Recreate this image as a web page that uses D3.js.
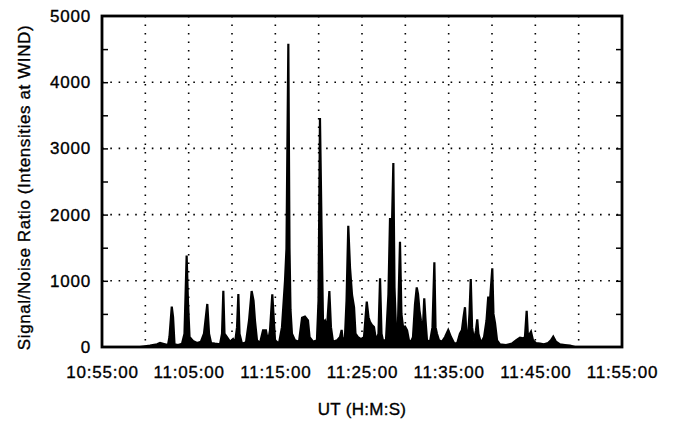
<!DOCTYPE html>
<html>
<head>
<meta charset="utf-8">
<script src="https://cdn.jsdelivr.net/npm/d3@7"></script>
<style>
  body { margin: 0; background: #fff; }
  text { font-family: "Liberation Sans", Arial, Helvetica, sans-serif; fill: #000; stroke: #000; stroke-width: 0.35px; }
</style>
</head>
<body>
<div id="chart"></div>
<script>
// seconds after 10:55:00 UT
var utSeconds = [263, 332, 381, 402, 429, 457, 467, 483, 492, 502, 526, 554, 571, 586, 595, 606, 630, 658, 685, 706,
  729, 741, 755, 782, 817, 831, 840, 848, 865, 886, 907, 921, 935, 944, 952, 969, 997, 1018, 1036, 1049,
  1059, 1073, 1094, 1115, 1135, 1149, 1163, 1179, 1187, 1198, 1225, 1246, 1267, 1277, 1290, 1298, 1305, 1315, 1336, 1364,
  1385, 1405, 1426, 1437, 1461, 1488, 1499, 1509, 1520, 1530, 1544, 1558, 1574, 1585, 1599, 1627, 1648, 1659, 1668, 1682,
  1693, 1705, 1717, 1731, 1745, 1755, 1772, 1793, 1814, 1833, 1845, 1855, 1869, 1883, 1897, 1914, 1925, 1935, 1945, 1966,
  1983, 1994, 2004, 2017, 2025, 2035, 2049, 2063, 2073, 2084, 2098, 2112, 2125, 2139, 2153, 2167, 2179, 2188, 2198, 2208,
  2222, 2231, 2240, 2250, 2271, 2288, 2301, 2309, 2319, 2333, 2354, 2375, 2397, 2416, 2437, 2458, 2478, 2492, 2503, 2513,
  2523, 2534, 2544, 2553, 2562, 2575, 2589, 2598, 2606, 2624, 2645, 2662, 2674, 2686, 2702, 2710, 2721, 2735, 2755, 2797,
  2838, 2866, 2894, 2915, 2928, 2940, 2949, 2970, 2984, 3004, 3032, 3060, 3088, 3108, 3124, 3143, 3171, 3205, 3240, 3275];

var snr = [0, 20, 40, 60, 45, 30, 150, 610, 450, 40, 30, 50, 200, 1380, 700, 150, 90, 60, 80, 200,
  650, 200, 60, 50, 40, 200, 850, 200, 150, 80, 120, 60, 300, 800, 200, 50, 70, 400, 845, 700,
  400, 100, 60, 250, 250, 80, 250, 795, 500, 100, 50, 300, 1000, 1480, 4580, 1500, 560, 200, 100, 80,
  440, 458, 400, 150, 80, 100, 700, 3460, 1800, 360, 400, 300, 845, 300, 80, 100, 150, 257, 80, 150,
  700, 1830, 1200, 785, 600, 200, 150, 120, 150, 685, 450, 380, 330, 300, 100, 200, 1037, 200, 100, 100,
  800, 1948, 1500, 2780, 900, 300, 350, 1590, 500, 300, 310, 250, 100, 80, 150, 650, 900, 800, 550, 400,
  300, 735, 400, 100, 80, 300, 1280, 300, 200, 100, 80, 150, 257, 150, 60, 50, 200, 257, 450, 600,
  200, 150, 500, 1027, 300, 100, 250, 418, 200, 60, 150, 400, 760, 700, 1188, 500, 360, 100, 40, 30,
  50, 100, 140, 130, 150, 548, 150, 231, 100, 60, 50, 40, 60, 100, 156, 80, 40, 30, 20, 0];

var xTickLabels = ["10:55:00", "11:05:00", "11:15:00", "11:25:00", "11:35:00", "11:45:00", "11:55:00"];
var yTicks = [0, 1000, 2000, 3000, 4000, 5000];

var margin = {top: 16, right: 52, bottom: 74, left: 102};
var width = 674 - margin.left - margin.right;
var height = 421 - margin.top - margin.bottom;

var parseUT = d3.utcParse("%H:%M:%S");
var t0 = parseUT(xTickLabels[0]);
var t1 = parseUT(xTickLabels[xTickLabels.length - 1]);

var data = utSeconds.map(function(s, i) {
  return {t: new Date(t0.getTime() + s * 1000), v: snr[i]};
});

var x = d3.scaleUtc().domain([t0, t1]).range([0, width]);
var y = d3.scaleLinear().domain([0, 5000]).range([height, 0]);

var svg = d3.select("#chart").append("svg")
  .attr("width", 674)
  .attr("height", 421)
  .append("g")
  .attr("transform", "translate(" + margin.left + "," + margin.top + ")");

// dotted grid
var gridV = d3.utcMinute.every(5).range(t0, t1).slice(1);
svg.append("g").selectAll("line").data(gridV).enter().append("line")
  .attr("x1", d => x(d)).attr("x2", d => x(d))
  .attr("y1", 0).attr("y2", height)
  .attr("stroke", "#000").attr("stroke-width", 1.6)
  .attr("stroke-dasharray", "1.6,6.9");

svg.append("g").selectAll("line").data(yTicks.slice(1, -1)).enter().append("line")
  .attr("x1", 0).attr("x2", width)
  .attr("y1", d => y(d)).attr("y2", d => y(d))
  .attr("stroke", "#000").attr("stroke-width", 1.6)
  .attr("stroke-dasharray", "1.6,6.7");

// inner tick marks
var minor = d3.range(500, 5000, 500);
svg.append("g").call(d3.axisLeft(y).tickValues(minor).tickSize(-6).tickFormat(""))
  .call(g => g.select(".domain").remove());
svg.append("g").attr("transform", "translate(" + width + ",0)")
  .call(d3.axisRight(y).tickValues(minor).tickSize(-6).tickFormat(""))
  .call(g => g.select(".domain").remove());
svg.selectAll(".tick line").attr("stroke-width", 1.5);

// signal trace
var area = d3.area().x(d => x(d.t)).y0(y(0)).y1(d => y(d.v));
var line = d3.line().x(d => x(d.t)).y(d => y(d.v));
svg.append("path").datum(data).attr("d", area).attr("fill", "#000");
svg.append("path").datum(data).attr("d", line)
  .attr("fill", "none").attr("stroke", "#000").attr("stroke-width", 2.2)
  .attr("stroke-linejoin", "miter");

// frame
svg.append("rect").attr("width", width).attr("height", height)
  .attr("fill", "none").attr("stroke", "#000").attr("stroke-width", 2.8);

// axes labels
var yAxis = svg.append("g")
  .call(d3.axisLeft(y).tickValues(yTicks).tickSize(0).tickPadding(11).tickFormat(d3.format("d")));
yAxis.select(".domain").remove();
yAxis.selectAll("text").style("font-size", "17px").style("letter-spacing", "0.8px");

var xAxis = svg.append("g").attr("transform", "translate(0," + height + ")")
  .call(d3.axisBottom(x).tickValues(xTickLabels.map(parseUT)).tickSize(0).tickPadding(19)
    .tickFormat(d3.utcFormat("%H:%M:%S")));
xAxis.select(".domain").remove();
xAxis.selectAll("text").style("font-size", "17px").style("letter-spacing", "0.8px");

svg.append("text")
  .attr("x", width / 2).attr("y", height + 68)
  .attr("text-anchor", "middle")
  .style("font-size", "17px").style("letter-spacing", "0.3px")
  .text("UT (H:M:S)");

svg.append("text")
  .attr("transform", "translate(" + (-72) + "," + (height / 2 + 6) + ") rotate(-90)")
  .attr("text-anchor", "middle")
  .style("font-size", "17px").style("letter-spacing", "0.6px")
  .text("Signal/Noise Ratio (Intensities at WIND)");
</script>
</body>
</html>
